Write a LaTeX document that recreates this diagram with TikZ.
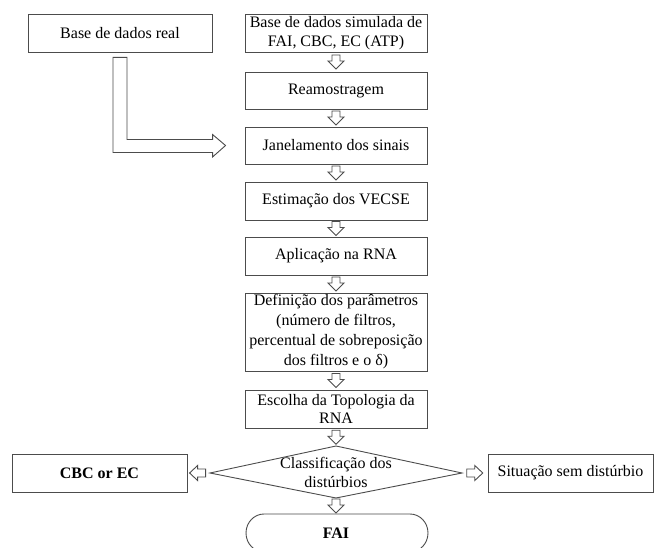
\documentclass[tikz,border=0pt]{standalone}
\usepackage{fontspec}
\setmainfont{Liberation Serif}
\usetikzlibrary{calc}
\begin{document}
\begin{tikzpicture}[x=1pt,y=1pt,
  every node/.style={font=\fontsize{16}{19.5}\selectfont},
  ln/.style={draw=black!70, line width=0.9pt},
  box/.style={ln, rectangle, inner sep=0pt, align=center, minimum width=182pt},
  arrline/.style={ln, fill=white, line join=miter},
  darr/.pic={\draw[arrline] (-4,7) -- (4,7) -- (4,1) -- (8,1) -- (0,-7) -- (-8,1) -- (-4,1) -- cycle;},
  larr/.pic={\draw[arrline] (8,4) -- (0,4) -- (0,7.5) -- (-8,0) -- (0,-7.5) -- (0,-4) -- (8,-4) -- cycle;},
  rarr/.pic={\draw[arrline] (-8,4) -- (0,4) -- (0,7.5) -- (8,0) -- (0,-7.5) -- (0,-4) -- (-8,-4) -- cycle;}
]
\useasboundingbox (0,0) rectangle (654,-548);
\clip (0,0) rectangle (654,-548);
\fill[white] (0,0) rectangle (654,-548);

\node[box, minimum width=184pt, minimum height=38pt] (real) at (120,-33) {Base de dados real};
\node[box, minimum height=38pt] (sim) at (336,-33) {Base de dados simulada de\\FAI, CBC, EC (ATP)};
\node[box, minimum height=37pt] (ream) at (336,-90.5) {Reamostragem};
\node[box, minimum height=37pt] (jan) at (336,-145.5) {Janelamento dos sinais};
\node[box, minimum height=38pt] (est) at (336,-201) {Estimação dos VECSE};
\node[box, minimum height=38pt] (apl) at (336,-256) {Aplicação na RNA};
\node[box, minimum height=78pt, font=\fontsize{16}{20}\selectfont] (def) at (336,-332) {Definição dos parâmetros\\(número de filtros,\\percentual de sobreposição\\dos filtros e o δ)};
\node[box, minimum height=38pt, font=\fontsize{16}{18}\selectfont] (esc) at (336,-409) {Escolha da Topologia da\\RNA};
\node[align=center, inner sep=0pt, font=\fontsize{16}{19}\selectfont] (cls) at (336,-472) {Classificação dos\\distúrbios};
\coordinate (clsN) at (336,-446);
\coordinate (clsS) at (336,-498);
\coordinate (clsW) at (210,-473);
\coordinate (clsE) at (462,-473);
\draw[ln] (clsW) -- (clsN) -- (clsE) -- (clsS) -- cycle;
\node[box, minimum width=175pt, minimum height=38pt, font=\fontsize{16}{19.5}\selectfont\bfseries] (cbc) at (99.5,-473) {CBC or EC};
\node[box, minimum width=165pt, minimum height=38pt] (sit) at (570.5,-473) {Situação sem distúrbio};
\node[font=\fontsize{16}{19.5}\selectfont\bfseries, inner sep=0pt] (fai) at (336,-533) {FAI};
\coordinate (faiN) at (336,-514);
\draw[ln] (264,-514) -- (410,-514) arc[start angle=90, end angle=-90, x radius=18, y radius=19]
  -- (264,-552) arc[start angle=270, end angle=90, x radius=18, y radius=19];

% block arrows
\pic at ($(sim.south)!0.5!(ream.north)$) {darr};
\pic at ($(ream.south)!0.5!(jan.north)$) {darr};
\pic at ($(jan.south)!0.5!(est.north)$) {darr};
\pic at ($(est.south)!0.5!(apl.north)$) {darr};
\pic at ($(apl.south)!0.5!(def.north)$) {darr};
\pic at ($(def.south)!0.5!(esc.north)$) {darr};
\pic at ($(esc.south)!0.5!(clsN)$) {darr};
\pic at ($(clsS)!0.5!(faiN)$) {darr};
\pic at ($(cbc.east)!0.45!(clsW)$) {larr};
\pic at ($(clsE)!0.5!(sit.west)$) {rarr};

% L-shaped block arrow from real to jan
\coordinate (Lt) at ($(real.south)+(-7,-5)$);
\draw[arrline] (Lt) -- ($(Lt)+(14,0)$) |- ($(jan.west)+(-32,6)$) -- ($(jan.west)+(-32,11)$) -- ($(jan.west)+(-19,0)$) -- ($(jan.west)+(-32,-11.5)$) -- ($(jan.west)+(-32,-7)$) -| (Lt) -- cycle;
\end{tikzpicture}
\end{document}
